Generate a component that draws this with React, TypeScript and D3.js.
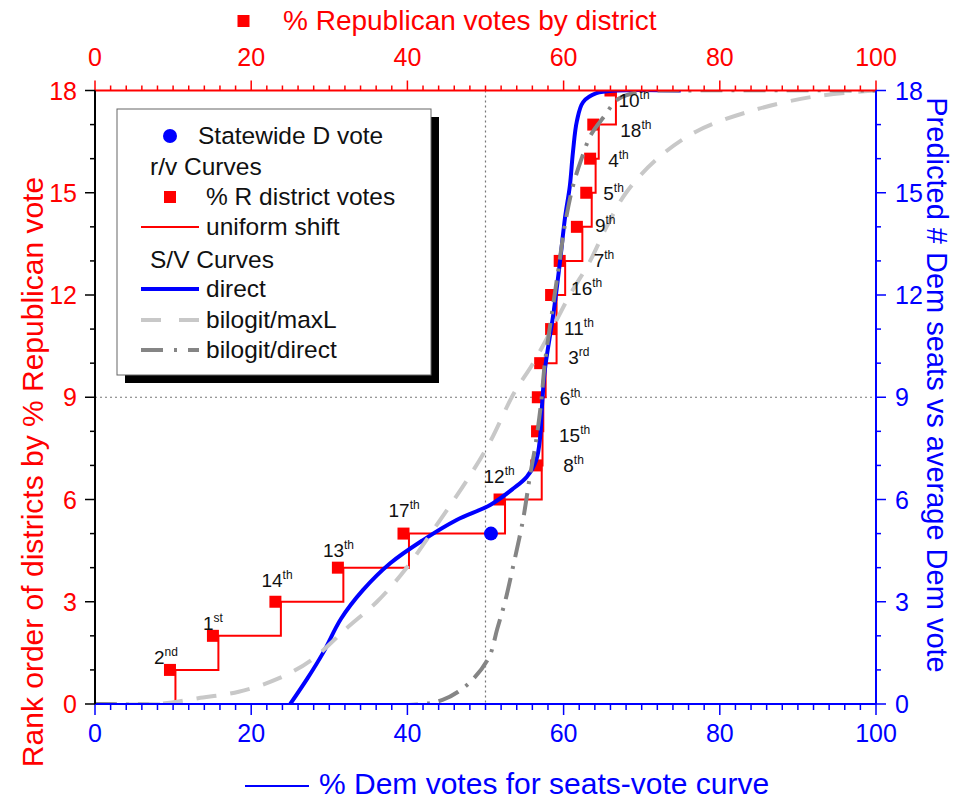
import React from "react";
import * as d3 from "d3";

// ---------- data ----------
const districtLabels = ["2nd", "1st", "14th", "13th", "17th", "12th", "8th", "15th", "6th", "3rd", "11th", "16th", "7th", "9th", "5th", "4th", "18th", "10th"];
const districtRanks = d3.range(1, 19);
const repVotePct = [9.6, 15.1, 23.1, 31.1, 39.5, 51.8, 56.5, 56.6, 56.7, 57.0, 58.4, 58.4, 59.5, 61.7, 62.9, 63.4, 63.8, 66.0];
const statewideDemVote = 50.7;
const statewideSeats = 5;
const uniformShiftOffset = 0.7;

const directVote = [25, 27.2, 29.2, 31.5, 34.3, 37.8, 42, 46.3, 50.6, 53.6, 55.3, 56.5, 57, 57.25, 57.6, 58.7, 59.5, 60.2, 60.8, 61.2, 61.7, 62.5, 64.2, 66.8, 75];
const directSeats = [0, 0.75, 1.5, 2.5, 3.34, 4.13, 4.81, 5.4, 5.84, 6.33, 6.67, 7.16, 7.84, 8.8, 9.8, 11.46, 12.9, 14.3, 15.2, 16.2, 17.1, 17.66, 17.92, 18, 18];

const maxLVote = [0, 8, 13.2, 18.4, 23.5, 27.7, 32.2, 36.1, 39.5, 43.3, 48.2, 50.6, 53.6, 56.1, 58.5, 60.8, 63.4, 65.5, 68, 72, 77, 84, 92, 100];
const maxLSeats = [0, 0, 0.17, 0.36, 0.75, 1.29, 2.22, 3.0, 3.88, 5.1, 6.77, 7.7, 9.1, 10.0, 11, 12, 13, 14, 15, 16, 16.8, 17.4, 17.82, 18];

const bilogitDirectVote = [0, 42, 44.5, 46.5, 48.5, 50.5, 51.5, 52.5, 53.5, 54.8, 55.7, 56.4, 57.1, 57.6, 58.4, 59.3, 60.2, 61.2, 62.3, 63.5, 65.2, 67, 70, 75, 100];
const bilogitDirectSeats = [0, 0, 0.12, 0.36, 0.75, 1.4, 2.2, 3.0, 4.0, 5.4, 6.7, 7.6, 8.8, 10, 11.3, 12.7, 14.1, 15.2, 16.0, 16.7, 17.24, 17.75, 17.97, 18, 18];

const xTicksMajor = [0, 20, 40, 60, 80, 100];
const yTicksMajor = [0, 3, 6, 9, 12, 15, 18];

// ---------- layout (not data) ----------
const W = 959, H = 802;
const X0 = 95, X1 = 876, Y0 = 704, Y1 = 90.5;
const labelOffsets: [number, number][] = [
  [-16, -6], [-10, -6], [-14, -15], [-15, -11], [-15, -17], [-16, -17],
  [27, 7], [22, 11], [22, 8], [28, 1], [13, 6], [20, 0],
  [34, 6], [18, 5], [17, 7], [18, 8], [27, 12], [8, 16],
];

const RED = "#ff0000";
const BLUE = "#0000ff";
const FONT = "'Liberation Sans', Arial, sans-serif";

export default function App() {
  const x = d3.scaleLinear().domain([0, 100]).range([X0, X1]);
  const y = d3.scaleLinear().domain([0, 18]).range([Y0, Y1]);

  const curve = (xs: number[], ys: number[]) =>
    d3.line<number>().x((_, i) => x(xs[i])).y((_, i) => y(ys[i])).curve(d3.curveCatmullRom.alpha(0.5))(xs.map((_, i) => i)) || "";

  // uniform shift step line
  const stepPts: [number, number][] = [[0, 0]];
  repVotePct.forEach((v, i) => {
    const r = districtRanks[i];
    stepPts.push([v + uniformShiftOffset, r - 1]);
    stepPts.push([v + uniformShiftOffset, r]);
  });
  const stepPath = d3.line<[number, number]>().x(d => x(d[0])).y(d => y(d[1]))(stepPts) || "";

  const xMinor = d3.range(0, 101, 2);
  const yMinor = d3.range(0, 19, 1);

  const sq = 12;

  return (
    <svg width={W} height={H} style={{ display: "block", position: "absolute", left: 0, top: 0, background: "#fff" }} fontFamily={FONT}>
      <defs>
        <clipPath id="plot">
          <rect x={X0} y={Y1} width={X1 - X0} height={Y0 - Y1} />
        </clipPath>
      </defs>
      <rect x={0} y={0} width={W} height={H} fill="#fff" />

      {/* grid dotted lines */}
      <line x1={x(50)} x2={x(50)} y1={Y1} y2={Y0} stroke="#777" strokeWidth={1.2} strokeDasharray="2 3" />
      <line x1={X0} x2={X1} y1={y(9)} y2={y(9)} stroke="#777" strokeWidth={1.2} strokeDasharray="2 3" />

      {/* legend */}
      <rect x={125} y={117} width={314} height={266} fill="#000" />
      <rect x={117} y={109} width={314} height={266} fill="#fff" stroke="#666" strokeWidth={1} />
      <g fontSize={24.5} fill="#111">
        <circle cx={170} cy={136} r={7} fill={BLUE} />
        <text x={198} y={144}>Statewide D vote</text>
        <text x={150} y={175}>r/v Curves</text>
        <rect x={164} y={191} width={12} height={12} fill={RED} />
        <text x={206} y={205}>% R district votes</text>
        <line x1={141} x2={199} y1={227} y2={227} stroke={RED} strokeWidth={2} />
        <text x={206} y={235}>uniform shift</text>
        <text x={150} y={268}>S/V Curves</text>
        <line x1={141} x2={199} y1={289} y2={289} stroke={BLUE} strokeWidth={4} />
        <text x={206} y={297}>direct</text>
        <line x1={141} x2={199} y1={320} y2={320} stroke="#c8c8c8" strokeWidth={4} strokeDasharray="20 18" />
        <text x={206} y={328}>bilogit/maxL</text>
        <line x1={141} x2={199} y1={350} y2={350} stroke="#858585" strokeWidth={4} strokeDasharray="22 11 3 11" />
        <text x={206} y={358}>bilogit/direct</text>
      </g>

      <g clipPath="url(#plot)">
        {/* uniform shift step */}
        <path d={stepPath} fill="none" stroke={RED} strokeWidth={2} />
        {/* district squares */}
        {repVotePct.map((v, i) => (
          <rect key={i} x={x(v) - sq / 2} y={y(districtRanks[i]) - sq / 2} width={sq} height={sq} fill={RED} />
        ))}
        {/* S/V curves */}
        <path d={curve(directVote, directSeats)} fill="none" stroke={BLUE} strokeWidth={4} />
        <path d={curve(maxLVote, maxLSeats)} fill="none" stroke="#c8c8c8" strokeWidth={4} strokeDasharray="20 14" />
        <path d={curve(bilogitDirectVote, bilogitDirectSeats)} fill="none" stroke="#858585" strokeWidth={4} strokeDasharray="22 9 3 9" />
        <circle cx={x(statewideDemVote)} cy={y(statewideSeats)} r={7} fill={BLUE} />
      </g>

      {/* district labels */}
      <g fontSize={19} fill="#111">
        {districtLabels.map((lab, i) => {
          const m = lab.match(/^(\d+)(\D+)$/) || ["", lab, ""];
          const px = x(repVotePct[i]) + labelOffsets[i][0];
          const py = y(districtRanks[i]) + labelOffsets[i][1];
          return (
            <text key={lab} x={px} y={py}>
              {m[1]}
              <tspan fontSize={12} dy={-8}>{m[2]}</tspan>
            </text>
          );
        })}
      </g>

      {/* top axis */}
      <line x1={X0} x2={X1} y1={Y1} y2={Y1} stroke={RED} strokeWidth={2} />
      {xMinor.map(t => (
        <line key={"tm" + t} x1={x(t)} x2={x(t)} y1={Y1} y2={Y1 - (t % 20 === 0 ? 10 : 5)} stroke={RED} strokeWidth={1.5} />
      ))}
      {xTicksMajor.map(t => (
        <text key={"tt" + t} x={x(t)} y={66} fill={RED} fontSize={25} textAnchor="middle">{t}</text>
      ))}
      <rect x={237.5} y={15} width={12} height={12} fill={RED} />
      <text x={283} y={30} fill={RED} fontSize={28}>% Republican votes by district</text>

      {/* bottom axis */}
      <line x1={X0} x2={X1} y1={Y0} y2={Y0} stroke={BLUE} strokeWidth={2} />
      {xMinor.map(t => (
        <line key={"bm" + t} x1={x(t)} x2={x(t)} y1={Y0} y2={Y0 + (t % 20 === 0 ? 11 : 6)} stroke={BLUE} strokeWidth={1.5} />
      ))}
      {xTicksMajor.map(t => (
        <text key={"bt" + t} x={x(t)} y={742} fill={BLUE} fontSize={25} textAnchor="middle">{t}</text>
      ))}
      <line x1={245} x2={309} y1={786} y2={786} stroke={BLUE} strokeWidth={2} />
      <text x={319} y={794} fill={BLUE} fontSize={30}>% Dem votes for seats-vote curve</text>

      {/* left axis */}
      <line x1={X0} x2={X0} y1={Y1} y2={Y0} stroke="#000" strokeWidth={2} />
      {yMinor.map(t => (
        <line key={"lm" + t} x1={X0} x2={X0 - (t % 3 === 0 ? 10 : 5)} y1={y(t)} y2={y(t)} stroke="#000" strokeWidth={1.5} />
      ))}
      {yTicksMajor.map(t => (
        <text key={"lt" + t} x={77} y={y(t) + 9} fill={RED} fontSize={25} textAnchor="end">{t}</text>
      ))}
      <text transform={`translate(43, 472) rotate(-90)`} fill={RED} fontSize={30} textAnchor="middle">
        Rank order of districts by % Republican vote
      </text>

      {/* right axis */}
      <line x1={X1} x2={X1} y1={Y1} y2={Y0} stroke={BLUE} strokeWidth={2} />
      {yMinor.map(t => (
        <line key={"rm" + t} x1={X1} x2={X1 + (t % 3 === 0 ? 10 : 5)} y1={y(t)} y2={y(t)} stroke={BLUE} strokeWidth={1.5} />
      ))}
      {yTicksMajor.map(t => (
        <text key={"rt" + t} x={895} y={y(t) + 9} fill={BLUE} fontSize={25} textAnchor="start">{t}</text>
      ))}
      <text transform={`translate(927, 385) rotate(90)`} fill={BLUE} fontSize={29} textAnchor="middle">
        Predicted # Dem seats vs average Dem vote
      </text>
    </svg>
  );
}
